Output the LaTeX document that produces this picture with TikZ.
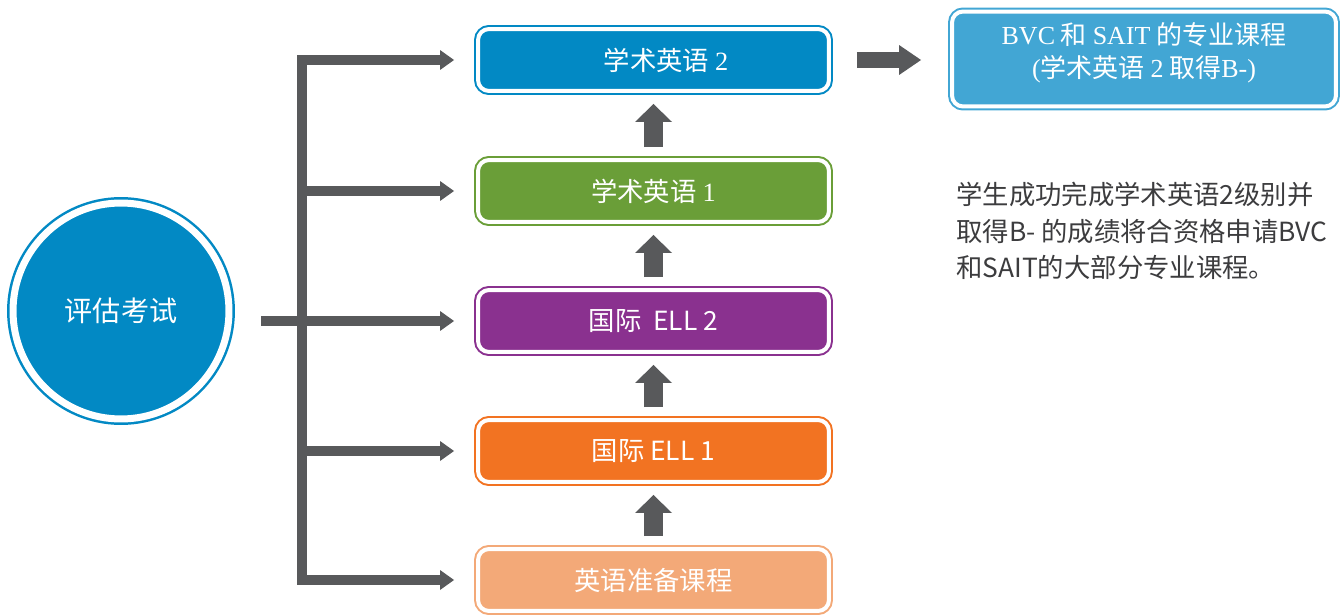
\documentclass[tikz,border=0pt]{standalone}
\usepackage{fontspec}
\setmainfont{Noto Sans CJK SC}
\newfontfamily\tnr{Liberation Serif}
\usetikzlibrary{arrows.meta}

\definecolor{testblue}{RGB}{2,137,196}
\definecolor{acadblue}{RGB}{2,137,196}
\definecolor{acadgreen}{RGB}{106,158,56}
\definecolor{ellpurple}{RGB}{138,49,143}
\definecolor{ellorange}{RGB}{242,115,34}
\definecolor{prepapricot}{RGB}{243,169,120}
\definecolor{progblue}{RGB}{66,166,212}
\definecolor{arrowgray}{RGB}{88,89,91}
\definecolor{notegray}{RGB}{60,60,62}

\begin{document}
\begin{tikzpicture}[x=.02cm, y=-.02cm,
    level/.style={draw=#1, fill=#1, line width=.04cm, double=white, double distance=.08cm,
        rounded corners=.22cm, minimum width=7.02cm, minimum height=1.24cm, inner sep=0,
        text=white, font=\fontsize{15}{18}\selectfont},
    bar/.style={draw=arrowgray, line width=.2cm},
    branch/.style={bar, -{Triangle[width=.4cm, length=.28cm, line width=0pt]}, shorten >=.46cm},
    uparrow/.style={draw=arrowgray, line width=.38cm,
        -{Triangle[width=.74cm, length=.36cm, line width=0pt]},
        shorten <=.24cm, shorten >=.24cm}
        ]

    \path [use as bounding box] (0,0) rectangle (1343,615);

    % placement test
    \node [circle, draw=testblue, fill=testblue, line width=.05cm, double=white,
        double distance=.14cm, minimum size=4.32cm, inner sep=0, text=white,
        font=\fontsize{16}{19}\selectfont] (T) at (121,311) {评估考试};

    % levels, from the top down
    \node [level=acadblue]    (S1) at (653.5,60)  {\hspace*{.5cm}学术英语 {\tnr 2}};
    \node [level=acadgreen]   (S2) at (653.5,191) {学术英语 {\tnr 1}};
    \node [level=ellpurple]   (S3) at (653.5,321) {国际\ \ ELL 2};
    \node [level=ellorange]   (S4) at (653.5,451) {国际 ELL 1};
    \node [level=prepapricot] (S5) at (653.5,580) {英语准备课程};

    \node [level=progblue, minimum width=7.68cm, minimum height=1.9cm, align=center,
        font=\fontsize{14.8}{18.7}\selectfont] (P) at (1144,59)
        {{\tnr BVC} 和 {\tnr SAIT} 的专业课程\\{\tnr(}学术英语 {\tnr 2} 取得{\tnr B-)}\rule[-10pt]{0pt}{10pt}};

    \node [anchor=north west, align=left, inner sep=0, text=notegray,
        font=\fontsize{15}{20.7}\selectfont] (N) at (956,182)
        {学生成功完成学术英语2级别并\\取得B- 的成绩将合资格申请BVC\\和SAIT的大部分专业课程。};

    % bracket
    \coordinate (top) at (302,60);
    \coordinate (bot) at (302,580);
    \coordinate (stub) at (261,321);

    \draw [branch, {Triangle[width=.4cm, length=.28cm, line width=0pt]}-{Triangle[width=.4cm, length=.28cm, line width=0pt]},
        shorten <=.46cm] (S1.west) -- (top) -- (bot) -- (S5.west);
    \draw [bar] (stub) -- (stub -| top);
    \draw [branch] (S2.west -| top) -- (S2.west);
    \draw [branch] (S3.west -| top) -- (S3.west);
    \draw [branch] (S4.west -| top) -- (S4.west);

    \draw [uparrow] (S5.north) -- (S4.south);
    \draw [uparrow] (S4.north) -- (S3.south);
    \draw [uparrow] (S3.north) -- (S2.south);
    \draw [uparrow] (S2.north) -- (S1.south);

    \draw [arrowgray, line width=.32cm, -{Triangle[width=.6cm, length=.44cm, line width=0pt]},
        shorten <=.54cm, shorten >=.6cm] (S1.east) -- (S1.east -| P.west);

\end{tikzpicture}
\end{document}
